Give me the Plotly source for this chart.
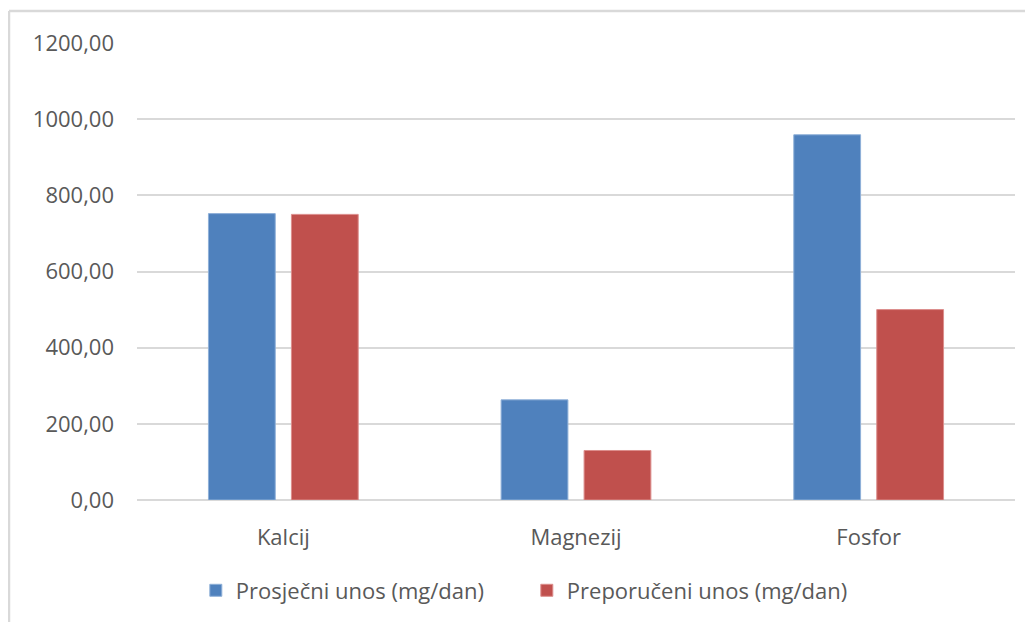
import plotly.graph_objects as go

# data
categories = ["Kalcij", "Magnezij", "Fosfor"]
prosjecni = [752, 263, 959]      # Prosječni unos (mg/dan)
preporuceni = [750, 130, 500]    # Preporučeni unos (mg/dan)
y_ticks = [0, 200, 400, 600, 800, 1000, 1200]

BLUE = "#4f81bd"
RED = "#c0504d"
GRID = "#d9d9d9"
TEXT = "#595959"
FONT = "Open Sans, Noto Sans, sans-serif"

fig = go.Figure()
fig.add_trace(go.Bar(x=categories, y=prosjecni, name="Prosječni unos (mg/dan)",
                     marker=dict(color=BLUE, line=dict(color="#8fb0d8", width=1))))
fig.add_trace(go.Bar(x=categories, y=preporuceni, name="Preporučeni unos (mg/dan)",
                     marker=dict(color=RED, line=dict(color="#dc8e8c", width=1))))

# page body has an 8px margin, so the figure is 16px smaller than the window
fig.update_layout(
    width=1017, height=614,
    margin=dict(l=129, r=10, t=35, b=118),
    paper_bgcolor="white", plot_bgcolor="white",
    font=dict(family=FONT, color=TEXT, size=22),
    separators=",.",
    barmode="group", bargap=0.433, bargroupgap=0.195,
    showlegend=True,
    legend=dict(orientation="h", x=0.067, xanchor="left", y=-0.198, yanchor="middle",
                font=dict(size=22, color=TEXT), itemwidth=30, traceorder="normal",
                entrywidth=286, entrywidthmode="pixels"),
)
fig.update_xaxes(showgrid=False, showline=False, ticks="", ticklabelstandoff=22,
                 tickfont=dict(size=22, color=TEXT))
fig.update_yaxes(range=[0, 1200], tickvals=y_ticks, tickformat=".2f",
                 showgrid=True, gridcolor=GRID, gridwidth=1.5,
                 zeroline=True, zerolinecolor=GRID, zerolinewidth=1.5,
                 showline=False, ticks="", ticklabelstandoff=22,
                 tickfont=dict(size=22, color=TEXT))

# chart-area frame (only the left and top edges fall inside the picture)
fig.add_shape(type="line", xref="paper", yref="paper", x0=-0.1458, x1=-0.1458, y0=-0.4, y1=1.07,
              line=dict(color=GRID, width=2.5))
fig.add_shape(type="line", xref="paper", yref="paper", x0=-0.1458, x1=1.1, y0=1.07, y1=1.07,
              line=dict(color=GRID, width=2.5))

fig.write_html("out.html")
